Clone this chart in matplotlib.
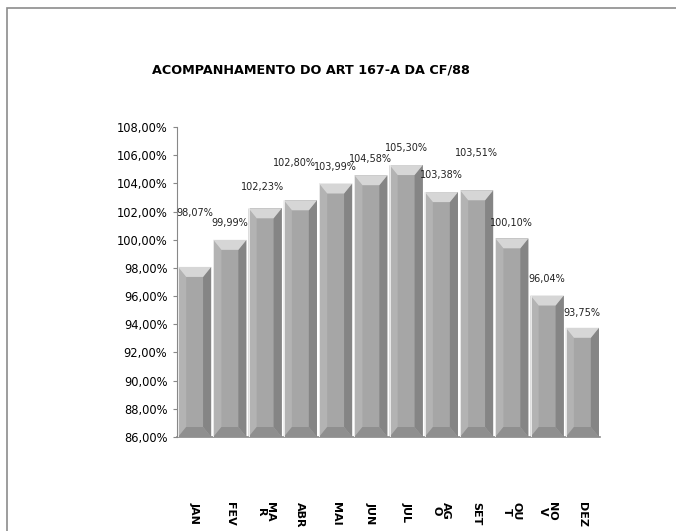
import matplotlib
matplotlib.use("Agg")
import matplotlib.pyplot as plt
from matplotlib.patches import Polygon, Rectangle
from matplotlib.ticker import FuncFormatter

# dados do grafico
meses = ['JAN', 'FEV', 'MA\nR', 'ABR', 'MAI', 'JUN', 'JUL', 'AG\nO', 'SET', 'OU\nT', 'NO\nV', 'DEZ']
valores = [98.07, 99.99, 102.23, 102.80, 103.99, 104.58, 105.30, 103.38, 103.51, 100.10, 96.04, 93.75]
titulo = 'ACOMPANHAMENTO DO ART 167-A DA CF/88'

# deslocamento dos rotulos (pontos) - o Excel empurra alguns para cima
desloc_y = [39, 12, 15, 27, 12, 12, 12, 12, 27, 11, 12, 11]
desloc_x = [0, 0, -2, -4, 0, 0, 0, 0, 0, 0, 0, 0]

ymin, ymax = 86, 108
larg = 0.94

fig = plt.figure(figsize=(6.76, 5.31), dpi=100)
ax = fig.add_axes([177 / 676, 1 - 437 / 531, 423 / 676, 310 / 531])

xs = list(range(len(valores)))
ax.bar(xs, [v - ymin for v in valores], bottom=ymin, width=larg,
       color='#a6a6a6', edgecolor='none', zorder=2)

# bisel dos prismas
b = 0.23                       # largura do bisel em x
bv = (ymax - ymin) * 10 / 310  # altura do bisel em y
for x, v in zip(xs, valores):
    x0, x1 = x - larg / 2, x + larg / 2
    faces = [
        ([(x0, ymin), (x0 + b, ymin + bv), (x0 + b, v - bv), (x0, v)], '#b3b3b3'),
        ([(x1, ymin), (x1 - b, ymin + bv), (x1 - b, v - bv), (x1, v)], '#858585'),
        ([(x0, ymin), (x1, ymin), (x1 - b, ymin + bv), (x0 + b, ymin + bv)], '#8f8f8f'),
        ([(x0, v), (x1, v), (x1 - b, v - bv), (x0 + b, v - bv)], '#d6d6d6'),
    ]
    for pts, c in faces:
        ax.add_patch(Polygon(pts, closed=True, facecolor=c, edgecolor='none', zorder=3))
    ax.add_patch(Rectangle((x0, ymin), 0.03, v - ymin, facecolor='#e8e8e8',
                           edgecolor='none', zorder=4))

for x, v, dy, dx in zip(xs, valores, desloc_y, desloc_x):
    ax.annotate(f'{v:.2f}%'.replace('.', ','), (x, v), xytext=(dx, dy),
                textcoords='offset points', ha='center', va='center',
                fontsize=7, color='#222222')

ax.set_xlim(-0.5, len(valores) - 0.5)
ax.set_ylim(ymin, ymax)
ax.set_yticks(range(ymin, ymax + 1, 2))
ax.yaxis.set_major_formatter(FuncFormatter(lambda y, p: f'{y:.2f}%'.replace('.', ',')))
ax.tick_params(axis='y', labelsize=8.3, length=3, color='#888888', pad=4)

ax.set_xticks(xs)
ax.set_xticklabels(meses, rotation=-90, fontsize=8, fontweight='bold',
                   va='top', ha='center', linespacing=0.9)
ax.tick_params(axis='x', length=0, pad=47)

for s in ['top', 'right']:
    ax.spines[s].set_visible(False)
ax.spines['left'].set_color('#888888')
ax.spines['bottom'].set_color('#888888')
ax.spines['bottom'].set_linewidth(1.2)

fig.text(152 / 676, 1 - 70 / 531, titulo, ha='left', va='center',
         fontsize=9.2, fontweight='bold')

# moldura da area do grafico
fig.patches.append(Rectangle((7 / 676, -0.1), 1.2, 1 - 8 / 531 + 0.1,
                             transform=fig.transFigure, fill=False,
                             edgecolor='#8c8c8c', linewidth=1.2))

fig.savefig('out.png', dpi=100)
